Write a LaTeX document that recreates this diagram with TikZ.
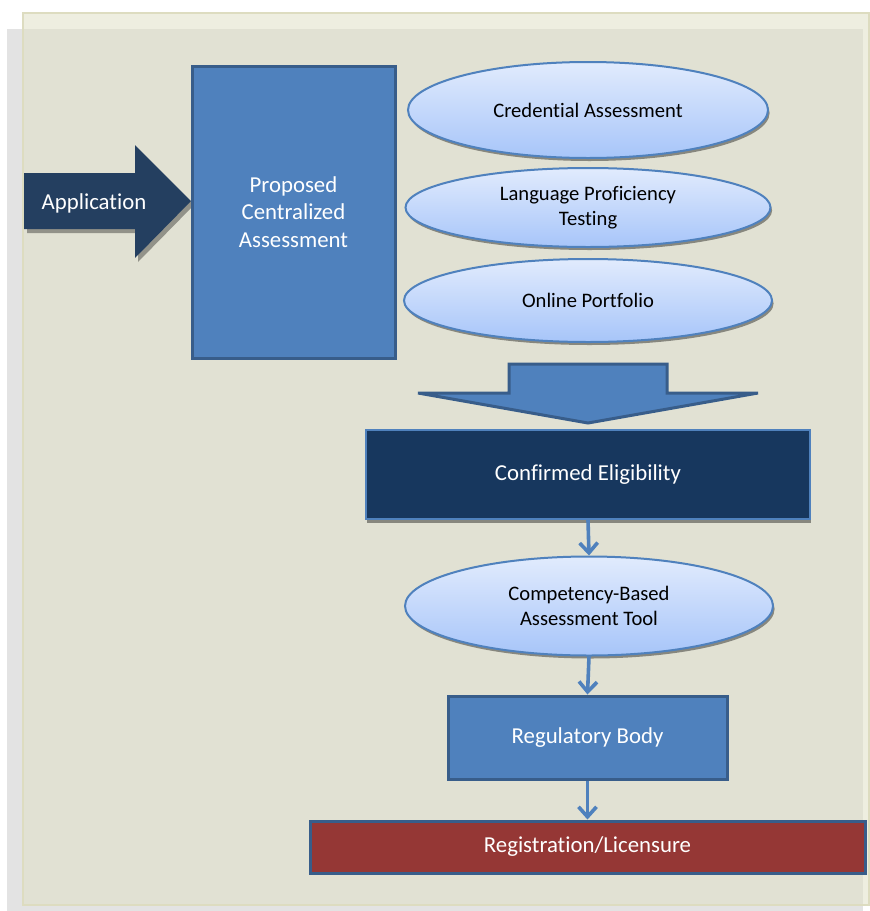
\documentclass[tikz,border=0pt]{standalone}
\usepackage{fontspec}
\setmainfont{Carlito}[Ligatures = NoCommon]
\usetikzlibrary{arrows.meta, shapes.geometric, shadows}

\definecolor{paper}{HTML}{EEEEE0}
\definecolor{paperedge}{HTML}{DDDCC0}
\definecolor{frame}{HTML}{E3E3E3}
\definecolor{inner}{HTML}{E1E1D3}
\definecolor{navy}{HTML}{243F60}
\definecolor{midblue}{HTML}{4F81BD}
\definecolor{edgeblue}{HTML}{385D8A}
\definecolor{darkblue}{HTML}{17375E}
\definecolor{wine}{HTML}{953735}
\definecolor{paleblue}{HTML}{E1EBFD}
\definecolor{skyblue}{HTML}{A7C5F9}

\tikzset{
	box/.style = {draw = edgeblue, line width = 1.5pt, fill = midblue, text = white, align = center, font = \fontsize{11.4}{13.8}\selectfont},
	oval/.style = {ellipse, draw = midblue, line width = 1pt, top color = paleblue, bottom color = skyblue, inner sep = 0pt, align = center, font = \fontsize{10.3}{12.5}\selectfont, drop shadow = {shadow xshift = 0.8pt, shadow yshift = -1.5pt, fill = black, opacity = 0.4}},
	link/.style = {->, midblue, line width = 1.8pt}
}

\begin{document}
\begin{tikzpicture}[> = {Straight Barb[length = 5pt, width = 9pt]}, x = 0.5pt, y = -0.5pt]

	\useasboundingbox (0, 0) rectangle (869, 911);

	% Background
	
	\filldraw [draw = none, fill = frame] (7, 29) rectangle (863, 911);
	\filldraw [draw = none, fill = paper] (23, 13) rectangle (869, 905);
	\filldraw [draw = none, fill = inner] (23, 29) rectangle (863, 905);
	\draw [paperedge, line width = 1pt] (23, 13) rectangle (869, 905);
	
	% Application arrow
	
	\filldraw [draw = none, fill = navy, drop shadow = {shadow xshift = 1.5pt, shadow yshift = -2pt, fill = black, opacity = 0.35}]
		(24, 173) -- (135, 173) -- (135, 145) -- (191, 201) -- (135, 258) -- (135, 229) -- (24, 229) -- cycle;
	\node [text = white, font = \fontsize{11.4}{13.8}\selectfont] (application) at (94, 203) {Application};
	
	% Proposed assessment
	
	\node [box, minimum width = 101.5pt, minimum height = 146pt] (proposed) at (293.5, 212) {Proposed\\Centralized\\Assessment};
	
	% Assessment components
	
	\node [oval, minimum width = 180pt, minimum height = 48pt] (credential) at (588, 110) {Credential Assessment};
	\node [oval, minimum width = 182.5pt, minimum height = 39.5pt] (language) at (588, 207.5) {Language Proficiency\\Testing};
	\node [oval, minimum width = 184pt, minimum height = 41.5pt] (portfolio) at (588, 300.5) {Online Portfolio};
	
	% Merging arrow
	
	\filldraw [fill = midblue, draw = edgeblue, line width = 1.5pt, line join = miter]
		(509, 364) -- (667, 364) -- (667, 393) -- (758, 393) -- (588, 423) -- (418, 393) -- (509, 393) -- cycle;
	
	% Eligibility and later steps
	
	\node [box, fill = darkblue, draw = midblue, line width = 1pt, minimum width = 222pt, minimum height = 44.5pt,
		drop shadow = {shadow xshift = 0.5pt, shadow yshift = -2pt, fill = black, opacity = 0.4}] (confirmed) at (588, 474.5) {Confirmed Eligibility};
	\node [oval, minimum width = 184pt, minimum height = 49.5pt] (competency) at (589, 606) {Competency-Based\\Assessment Tool};
	\node [box, minimum width = 139.5pt, minimum height = 41.5pt] (regulatory) at (587.5, 737.5) {Regulatory Body};
	\node [box, fill = wine, minimum width = 277.5pt, minimum height = 26pt] (registration) at (587.5, 847) {Registration/Licensure};
	
	% Connectors
	
	\begin{scope}[link]
	
		\draw (confirmed.south) -- (competency.north);
		\draw (competency.south) -- (regulatory.north);
		\draw (regulatory.south) -- (registration.north);
	
	\end{scope}
	
\end{tikzpicture}
\end{document}
